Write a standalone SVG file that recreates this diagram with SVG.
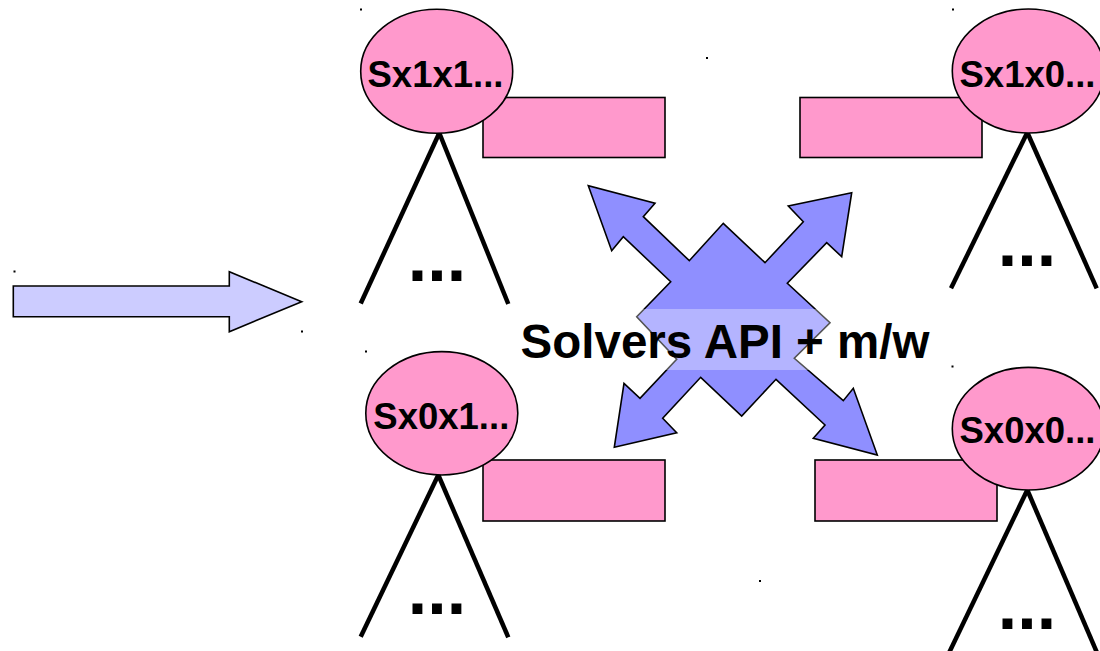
<svg xmlns="http://www.w3.org/2000/svg" width="1100" height="651" viewBox="0 0 1100 651">
  <style>
    .bubble { fill: #ff99cc; stroke: #000; stroke-width: 1.6; }
    .box { fill: #ff99cc; stroke: #000; stroke-width: 1.6; }
    .branch { stroke: #000; stroke-width: 4.5; fill: none; }
    .label { font-family: "Liberation Sans", Arial, sans-serif; font-weight: bold; font-size: 36.5px; fill: #000; text-anchor: middle; }
    .more { font-family: "Liberation Sans", Arial, sans-serif; font-weight: bold; font-size: 70px; fill: #000; text-anchor: middle; }
    .title { font-family: "Liberation Sans", Arial, sans-serif; font-weight: bold; font-size: 47.5px; fill: #000; text-anchor: middle; }
    .speck { fill: #000; }
  </style>

  <rect width="1100" height="651" fill="#fff"/>

  <!-- tiny specks -->
  <g id="specks">
    <rect class="speck" x="360" y="8.5" width="2" height="2"/>
    <rect class="speck" x="511.5" y="132.5" width="2" height="2"/>
    <rect class="speck" x="13.5" y="270.5" width="2" height="2"/>
    <rect class="speck" x="301" y="330.5" width="2" height="2"/>
    <rect class="speck" x="365" y="350.5" width="2" height="2"/>
    <rect class="speck" x="706" y="57" width="2" height="2"/>
    <rect class="speck" x="952" y="8.5" width="2" height="2"/>
    <rect class="speck" x="516.5" y="474" width="2" height="2"/>
    <rect class="speck" x="759" y="580" width="2" height="2"/>
    <rect class="speck" x="951.5" y="365.5" width="2" height="2"/>
  </g>

  <!-- connectors: input arrow and the four-way exchange arrow -->
  <g id="connectors">
    <polygon points="13.3,286 229.3,286 229.3,271.7 301.7,301.7 229.3,331.7 229.3,316.7 13.3,316.7"
             fill="#ccccff" stroke="#000" stroke-width="1.6" stroke-linejoin="miter"/>
    <polygon points="636.7,316.7 670.7,281.7 623.3,236.7 611.7,250.7 588.3,185.7 655,203.3 643.3,216.7 689.3,260.7 723.3,223.3 765,262.7 803.3,221.7 788.3,206 851.7,192.7 841.7,256.7 826.7,242.7 787.3,283.3 830,322.7 794.3,358.3 843.3,400.7 853.3,388.3 877.3,455 813.3,438.3 825,425 776,379.3 741.7,416 700.7,377.3 662.7,418.3 676.7,432.7 614.3,447.3 624,383.3 640,398.3 676.7,359.3"
             fill="#8f8fff" stroke="#000" stroke-width="1.6" stroke-linejoin="miter"/>
    <!-- soft highlight band behind the title -->
    <rect x="560" y="309" width="330" height="61" fill="#fff" fill-opacity="0.33"/>
  </g>

  <g id="title">
    <text class="title" x="725" y="358">Solvers API + m/w</text>
  </g>

  <!-- node Sx1x1 -->
  <g id="node-sx1x1">
    <line class="branch" x1="439.3" y1="133" x2="360.7" y2="303.5"/>
    <line class="branch" x1="439.3" y1="133" x2="508.3" y2="304"/>
    <rect class="box" x="483" y="97.5" width="182" height="60"/>
    <ellipse class="bubble" cx="436.7" cy="71.3" rx="76" ry="62"/>
    <text class="label" x="435.5" y="87">Sx1x1...</text>
    <text class="more" x="437" y="281">...</text>
  </g>

  <!-- node Sx1x0 -->
  <g id="node-sx1x0">
    <line class="branch" x1="1027.3" y1="132.5" x2="951" y2="288.3"/>
    <line class="branch" x1="1027.3" y1="132.5" x2="1096.7" y2="288.3"/>
    <rect class="box" x="800" y="97.5" width="182" height="60"/>
    <ellipse class="bubble" cx="1028.3" cy="71" rx="76" ry="62"/>
    <text class="label" x="1027.5" y="86.5">Sx1x0...</text>
    <text class="more" x="1027" y="266">...</text>
  </g>

  <!-- node Sx0x1 -->
  <g id="node-sx0x1">
    <line class="branch" x1="438.3" y1="475" x2="360.7" y2="636.7"/>
    <line class="branch" x1="438.3" y1="475" x2="508.3" y2="637.3"/>
    <rect class="box" x="483" y="460" width="182" height="61"/>
    <ellipse class="bubble" cx="441.8" cy="413.3" rx="76" ry="61.7"/>
    <text class="label" x="441.3" y="428.5">Sx0x1...</text>
    <text class="more" x="437" y="613.5">...</text>
  </g>

  <!-- node Sx0x0 -->
  <g id="node-sx0x0">
    <line class="branch" x1="1027.3" y1="490" x2="948" y2="655"/>
    <line class="branch" x1="1027.3" y1="490" x2="1098" y2="655"/>
    <rect class="box" x="815" y="460" width="182" height="61"/>
    <ellipse class="bubble" cx="1028.3" cy="428.7" rx="76" ry="61.3"/>
    <text class="label" x="1027.5" y="443">Sx0x0...</text>
    <text class="more" x="1027" y="628.5">...</text>
  </g>
</svg>
